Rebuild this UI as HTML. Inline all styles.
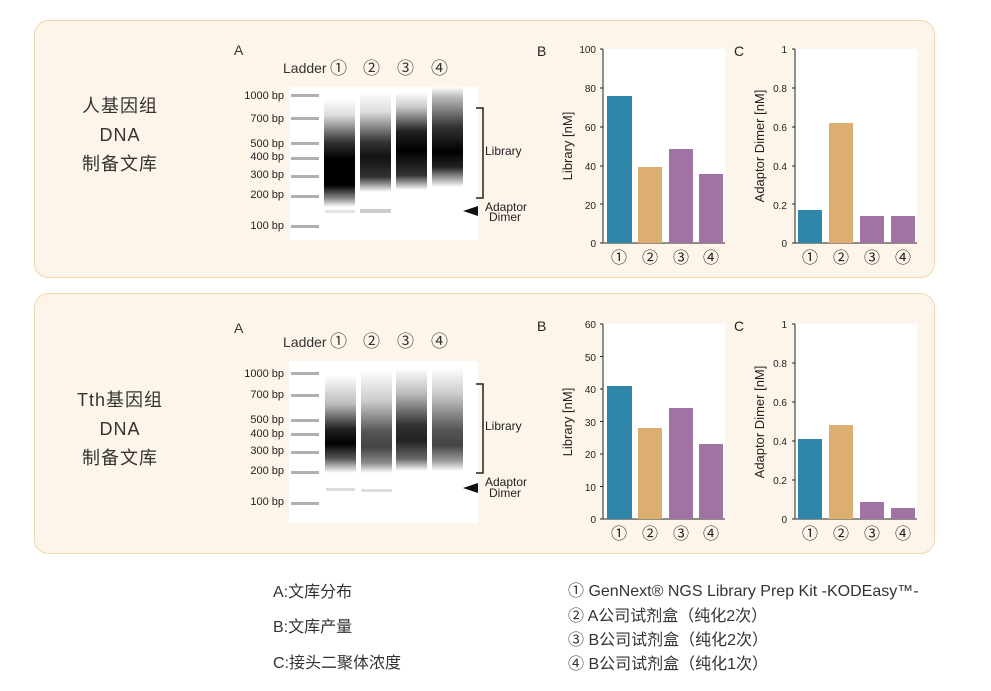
<!DOCTYPE html>
<html><head><meta charset="utf-8"><style>
body{margin:0;background:#fff;}
svg text{font-family:"Liberation Sans","Noto Sans CJK SC",sans-serif;}
</style></head><body>
<svg width="991" height="686" viewBox="0 0 991 686" xmlns="http://www.w3.org/2000/svg">
<defs>
<linearGradient id="t1" x1="0" y1="0" x2="0" y2="1"><stop offset="0" stop-color="#fff"/><stop offset="0.15" stop-color="#ddd"/><stop offset="0.4" stop-color="#333"/><stop offset="0.55" stop-color="#000"/><stop offset="0.8" stop-color="#000"/><stop offset="0.92" stop-color="#888"/><stop offset="1" stop-color="#fff"/></linearGradient>
<linearGradient id="t2" x1="0" y1="0" x2="0" y2="1"><stop offset="0" stop-color="#fff"/><stop offset="0.2" stop-color="#ddd"/><stop offset="0.5" stop-color="#333"/><stop offset="0.65" stop-color="#111"/><stop offset="0.85" stop-color="#333"/><stop offset="1" stop-color="#fff"/></linearGradient>
<linearGradient id="t3" x1="0" y1="0" x2="0" y2="1"><stop offset="0" stop-color="#fff"/><stop offset="0.15" stop-color="#ccc"/><stop offset="0.4" stop-color="#222"/><stop offset="0.6" stop-color="#000"/><stop offset="0.85" stop-color="#333"/><stop offset="1" stop-color="#fff"/></linearGradient>
<linearGradient id="t4" x1="0" y1="0" x2="0" y2="1"><stop offset="0" stop-color="#fff"/><stop offset="0.1" stop-color="#bbb"/><stop offset="0.4" stop-color="#333"/><stop offset="0.65" stop-color="#000"/><stop offset="0.8" stop-color="#222"/><stop offset="1" stop-color="#fff"/></linearGradient>
<linearGradient id="b1" x1="0" y1="0" x2="0" y2="1"><stop offset="0" stop-color="#fff"/><stop offset="0.3" stop-color="#bbb"/><stop offset="0.55" stop-color="#222"/><stop offset="0.7" stop-color="#000"/><stop offset="0.85" stop-color="#555"/><stop offset="1" stop-color="#fff"/></linearGradient>
<linearGradient id="b2" x1="0" y1="0" x2="0" y2="1"><stop offset="0" stop-color="#fff"/><stop offset="0.3" stop-color="#ccc"/><stop offset="0.6" stop-color="#555"/><stop offset="0.75" stop-color="#444"/><stop offset="0.9" stop-color="#888"/><stop offset="1" stop-color="#fff"/></linearGradient>
<linearGradient id="b3" x1="0" y1="0" x2="0" y2="1"><stop offset="0" stop-color="#fff"/><stop offset="0.25" stop-color="#bbb"/><stop offset="0.55" stop-color="#333"/><stop offset="0.7" stop-color="#222"/><stop offset="0.88" stop-color="#666"/><stop offset="1" stop-color="#fff"/></linearGradient>
<linearGradient id="b4" x1="0" y1="0" x2="0" y2="1"><stop offset="0" stop-color="#fff"/><stop offset="0.25" stop-color="#ccc"/><stop offset="0.6" stop-color="#555"/><stop offset="0.75" stop-color="#444"/><stop offset="0.9" stop-color="#999"/><stop offset="1" stop-color="#fff"/></linearGradient>
</defs>

<rect x="34.5" y="20.5" width="900" height="257" rx="14" fill="#fdf5ea" stroke="#f1d6b0"/>
<rect x="34.5" y="293.5" width="900" height="260" rx="14" fill="#fdf5ea" stroke="#f1d6b0"/>

<g font-size="18" fill="#333" text-anchor="middle" letter-spacing="1">
<text x="120" y="112">人基因组</text><text x="120" y="141">DNA</text><text x="120" y="170">制备文库</text>
<text x="120" y="406">Tth基因组</text><text x="120" y="435">DNA</text><text x="120" y="464">制备文库</text>
</g>

<g font-size="14" fill="#333">
<text x="234" y="55">A</text><text x="283" y="73">Ladder</text><text x="330" y="74" font-size="17">①</text>
<text x="363" y="74" font-size="17">②</text><text x="397" y="74" font-size="17">③</text><text x="431" y="74" font-size="17">④</text>
<text x="234" y="333">A</text><text x="283" y="347">Ladder</text><text x="330" y="347" font-size="17">①</text>
<text x="363" y="347" font-size="17">②</text><text x="397" y="347" font-size="17">③</text><text x="431" y="347" font-size="17">④</text>
</g>
<rect x="290" y="87" width="188" height="153" fill="#fff"/>
<rect x="289" y="361" width="189" height="162" fill="#fff"/>
<rect x="324" y="99" width="31" height="108" fill="url(#t1)"/>
<rect x="360" y="92" width="31" height="100" fill="url(#t2)"/>
<rect x="396" y="92" width="31" height="98" fill="url(#t3)"/>
<rect x="432" y="87" width="31" height="100" fill="url(#t4)"/>
<rect x="325" y="210" width="30" height="3" fill="#e4e4e4"/>
<rect x="360" y="209" width="31" height="4" fill="#ccc"/>
<g fill="#b0b0b0">
<rect x="291" y="94" width="28" height="3"/><rect x="291" y="117" width="28" height="3"/><rect x="291" y="142" width="28" height="3"/><rect x="291" y="157" width="28" height="3"/><rect x="291" y="175" width="28" height="3"/><rect x="291" y="195" width="28" height="3"/><rect x="291" y="225" width="28" height="3"/>
<rect x="291" y="372" width="28" height="3"/><rect x="291" y="394" width="28" height="3"/><rect x="291" y="419" width="28" height="3"/><rect x="291" y="433" width="28" height="3"/><rect x="291" y="451" width="28" height="3"/><rect x="291" y="471" width="28" height="3"/><rect x="291" y="502" width="28" height="3"/>
</g>
<g font-size="11" fill="#222" text-anchor="end">
<text x="284" y="99">1000 bp</text><text x="284" y="122">700 bp</text><text x="284" y="147">500 bp</text><text x="284" y="160">400 bp</text><text x="284" y="178">300 bp</text><text x="284" y="198">200 bp</text><text x="284" y="229">100 bp</text>
<text x="284" y="377">1000 bp</text><text x="284" y="398">700 bp</text><text x="284" y="423">500 bp</text><text x="284" y="437">400 bp</text><text x="284" y="454">300 bp</text><text x="284" y="474">200 bp</text><text x="284" y="505">100 bp</text>
</g>
<path d="M476 108 H483 V198 H476" fill="none" stroke="#222" stroke-width="1.5"/>
<polygon points="463,211 478,206 478,216" fill="#111"/>
<g font-size="12" fill="#222"><text x="485" y="155">Library</text><text x="485" y="211">Adaptor</text><text x="489" y="221">Dimer</text></g>

<rect x="325" y="375" width="31" height="98" fill="url(#b1)"/>
<rect x="361" y="370" width="31" height="103" fill="url(#b2)"/>
<rect x="396" y="368" width="31" height="103" fill="url(#b3)"/>
<rect x="432" y="368" width="31" height="103" fill="url(#b4)"/>
<rect x="326" y="488" width="29" height="3" fill="#ddd"/>
<rect x="361" y="489" width="31" height="3" fill="#ddd"/>
<path d="M476 384 H483 V473 H476" fill="none" stroke="#222" stroke-width="1.5"/>
<polygon points="463,488 478,483 478,493" fill="#111"/>
<g font-size="12" fill="#222"><text x="485" y="430">Library</text><text x="485" y="486">Adaptor</text><text x="489" y="497">Dimer</text></g>

<g font-size="12" fill="#222">
<text x="537" y="56" font-size="14">B</text><text x="734" y="56" font-size="14">C</text>
<rect x="603" y="49" width="122" height="194" fill="#fff"/>
<path d="M603 49 V243 H725" stroke="#222" fill="none"/>
<g font-size="10" text-anchor="end"><text x="596" y="53">100</text><text x="596" y="92">80</text><text x="596" y="131">60</text><text x="596" y="170">40</text><text x="596" y="209">20</text><text x="596" y="247">0</text></g>
<path d="M600 49h3M600 88h3M600 127h3M600 166h3M600 204h3M600 243h3" stroke="#222"/>
<rect x="607" y="96" width="25" height="147" fill="#2e86a8"/>
<rect x="638" y="167" width="24" height="76" fill="#dcae70"/>
<rect x="669" y="149" width="24" height="94" fill="#a073a3"/>
<rect x="699" y="174" width="24" height="69" fill="#a073a3"/>
<text transform="translate(572 146) rotate(-90)" text-anchor="middle" font-size="13">Library [nM]</text>
<g font-size="16" text-anchor="middle"><text x="619" y="263">①</text><text x="650" y="263">②</text><text x="681" y="263">③</text><text x="711" y="263">④</text></g>

<rect x="795" y="49" width="122" height="194" fill="#fff"/>
<path d="M795 49 V243 H917" stroke="#222" fill="none"/>
<g font-size="10" text-anchor="end"><text x="787" y="53">1</text><text x="787" y="92">0.8</text><text x="787" y="131">0.6</text><text x="787" y="170">0.4</text><text x="787" y="209">0.2</text><text x="787" y="247">0</text></g>
<path d="M792 49h3M792 88h3M792 127h3M792 166h3M792 204h3M792 243h3" stroke="#222"/>
<rect x="798" y="210" width="24" height="33" fill="#2e86a8"/>
<rect x="829" y="123" width="24" height="120" fill="#dcae70"/>
<rect x="860" y="216" width="24" height="27" fill="#a073a3"/>
<rect x="891" y="216" width="24" height="27" fill="#a073a3"/>
<text transform="translate(764 146) rotate(-90)" text-anchor="middle" font-size="13">Adaptor Dimer [nM]</text>
<g font-size="16" text-anchor="middle"><text x="810" y="263">①</text><text x="841" y="263">②</text><text x="872" y="263">③</text><text x="903" y="263">④</text></g>
</g>

<g font-size="12" fill="#222">
<text x="537" y="331" font-size="14">B</text><text x="734" y="331" font-size="14">C</text>
<rect x="603" y="324" width="122" height="195" fill="#fff"/>
<path d="M603 324 V519 H725" stroke="#222" fill="none"/>
<g font-size="10" text-anchor="end"><text x="596" y="328">60</text><text x="596" y="361">50</text><text x="596" y="393">40</text><text x="596" y="426">30</text><text x="596" y="458">20</text><text x="596" y="491">10</text><text x="596" y="523">0</text></g>
<path d="M600 324h3M600 356.5h3M600 389h3M600 421.5h3M600 454h3M600 486.5h3M600 519h3" stroke="#222"/>
<rect x="607" y="386" width="25" height="133" fill="#2e86a8"/>
<rect x="638" y="428" width="24" height="91" fill="#dcae70"/>
<rect x="669" y="408" width="24" height="111" fill="#a073a3"/>
<rect x="699" y="444" width="24" height="75" fill="#a073a3"/>
<text transform="translate(572 422) rotate(-90)" text-anchor="middle" font-size="13">Library [nM]</text>
<g font-size="16" text-anchor="middle"><text x="619" y="539">①</text><text x="650" y="539">②</text><text x="681" y="539">③</text><text x="711" y="539">④</text></g>

<rect x="795" y="324" width="122" height="195" fill="#fff"/>
<path d="M795 324 V519 H917" stroke="#222" fill="none"/>
<g font-size="10" text-anchor="end"><text x="787" y="328">1</text><text x="787" y="367">0.8</text><text x="787" y="406">0.6</text><text x="787" y="445">0.4</text><text x="787" y="484">0.2</text><text x="787" y="523">0</text></g>
<path d="M792 324h3M792 363h3M792 402h3M792 441h3M792 480h3M792 519h3" stroke="#222"/>
<rect x="798" y="439" width="24" height="80" fill="#2e86a8"/>
<rect x="829" y="425" width="24" height="94" fill="#dcae70"/>
<rect x="860" y="502" width="24" height="17" fill="#a073a3"/>
<rect x="891" y="508" width="24" height="11" fill="#a073a3"/>
<text transform="translate(764 422) rotate(-90)" text-anchor="middle" font-size="13">Adaptor Dimer [nM]</text>
<g font-size="16" text-anchor="middle"><text x="810" y="539">①</text><text x="841" y="539">②</text><text x="872" y="539">③</text><text x="903" y="539">④</text></g>
</g>

<g font-size="16" fill="#333">
<text x="273" y="597">A:文库分布</text>
<text x="273" y="632">B:文库产量</text>
<text x="273" y="668">C:接头二聚体浓度</text>
<text x="568" y="596">① GenNext® NGS Library Prep Kit -KODEasy™-</text>
<text x="568" y="621">② A公司试剂盒（纯化2次）</text>
<text x="568" y="645">③ B公司试剂盒（纯化2次）</text>
<text x="568" y="669">④ B公司试剂盒（纯化1次）</text>
</g>
</svg>
</body></html>
